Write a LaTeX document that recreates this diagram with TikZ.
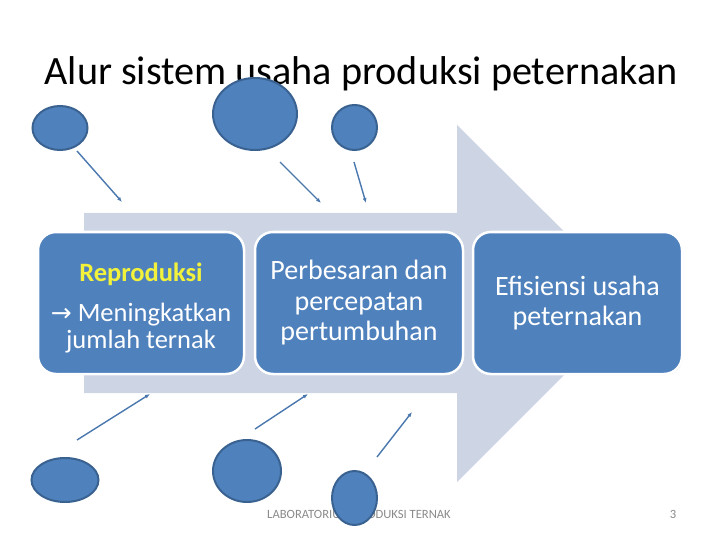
\documentclass[tikz,border=0pt]{standalone}
\usepackage{fontspec}
\setmainfont{Carlito}
\newfontfamily\arrowfont{DejaVu Sans}
\usetikzlibrary{arrows.meta,shapes.geometric,shadows}

\definecolor{slideblue}{HTML}{4F81BD}
\definecolor{slideedge}{HTML}{3A6291}
\definecolor{bandgray}{HTML}{CDD4E4}
\definecolor{footgray}{HTML}{8A8A8A}
\definecolor{headyellow}{HTML}{F2F23C}

\newcommand\titlestyle{\fontsize{40.2}{44}\selectfont}
\newcommand\blocktextstyle{\fontsize{28}{30.5}\selectfont}
\newcommand\footstyle{\fontsize{12.6}{14}\selectfont}

\tikzset{
  stepblock/.style={draw=white, line width=2.5pt, fill=slideblue, rounded corners=18pt,
    minimum height=142pt, text=white, align=center, inner sep=2pt, font=\blocktextstyle,
    drop shadow={opacity=.2, shadow xshift=1pt, shadow yshift=-1pt}},
  bubble/.style={ellipse, draw=slideedge, line width=2pt, fill=slideblue, inner sep=0pt},
  pointer/.style={draw=slideblue!92!black, line width=1.4pt, -{Latex[length=5pt,width=4pt]}},
}

\begin{document}
\begin{tikzpicture}[x=1pt, y=-1pt]
    \useasboundingbox (0,0) rectangle (720,540);
    % big arrow behind the steps
    \fill[bandgray] (84,213) -- (457,213) -- (457,125) -- (636,303) -- (457,482) -- (457,393) -- (84,393) -- cycle;
    \node[stepblock, minimum width=206pt, font=\fontsize{26.5}{27}\selectfont] (reproduksi) at (141,303)
      {\rule{0pt}{28pt}{\bfseries\color{headyellow}Reproduksi}\\[13pt]
       {\arrowfont\fontsize{25}{27}\selectfont →}\ Meningkatkan\\jumlah ternak};
    \node[stepblock, minimum width=208pt] (pertumbuhan) at (359,303)
      {Perbesaran dan\\percepatan\\pertumbuhan};
    \node[stepblock, minimum width=209pt] (efisiensi) at (577.5,303)
      {Efisiensi usaha\\peternakan};
    \node[anchor=base] (title) at (361,85) {\titlestyle Alur sistem usaha produksi peternakan};
    \node[anchor=base, text=footgray] (footer) at (359,518) {\footstyle LABORATORIUM PRODUKSI TERNAK};
    \node[anchor=base, text=footgray] (pagenum) at (673,518) {\footstyle 3};
    % pointers
    \coordinate (p1s) at (77,151);   \coordinate (p1e) at (122,202);
    \coordinate (p2s) at (280,162);  \coordinate (p2e) at (321,203);
    \coordinate (p3s) at (354,162);  \coordinate (p3e) at (366,203);
    \coordinate (p4s) at (77,440);   \coordinate (p4e) at (150,394);
    \coordinate (p5s) at (255,429);  \coordinate (p5e) at (308,394);
    \coordinate (p6s) at (377,457);  \coordinate (p6e) at (412,412);
    \foreach \s/\e in {p1s/p1e, p2s/p2e, p3s/p3e, p4s/p4e, p5s/p5e, p6s/p6e}
      \draw[pointer] (\s) -- (\e);
    % bubbles
    \node[bubble, minimum width=55pt, minimum height=44pt] (b1) at (60,128) {};
    \node[bubble, minimum width=84pt, minimum height=72pt] (b2) at (255,114) {};
    \node[bubble, minimum width=45pt, minimum height=45pt] (b3) at (354.5,127.5) {};
    \node[bubble, minimum width=67pt, minimum height=44pt] (b4) at (65,480) {};
    \node[bubble, minimum width=68pt, minimum height=62pt] (b5) at (247,471) {};
    \node[bubble, minimum width=45pt, minimum height=54pt] (b6) at (354.5,498) {};
\end{tikzpicture}
\end{document}
